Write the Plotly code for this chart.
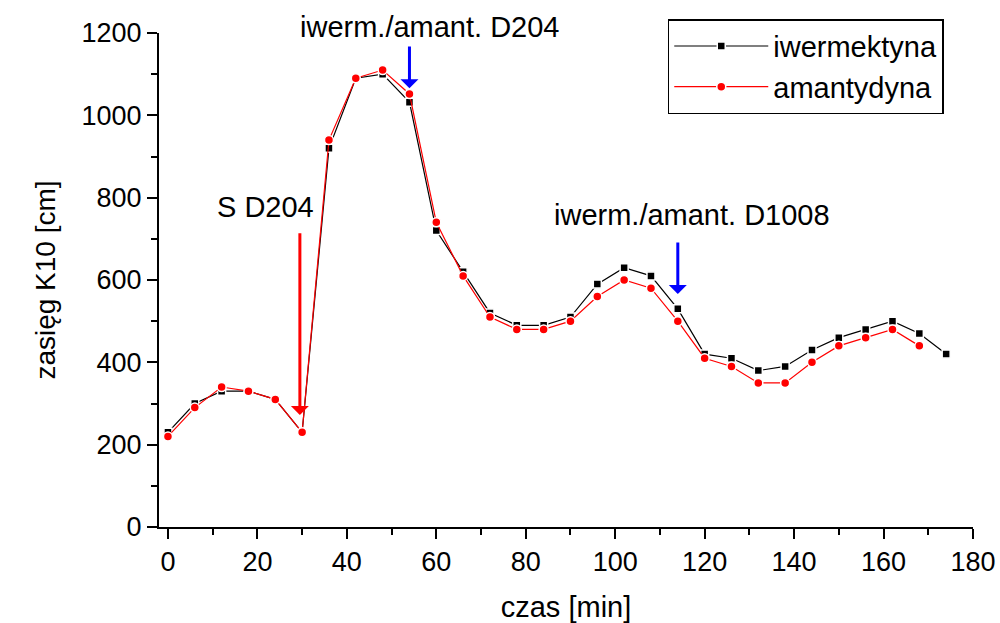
import plotly.graph_objects as go

czas = [0, 6, 12, 18, 24, 30, 36, 42, 48, 54, 60, 66, 72, 78, 84, 90, 96, 102, 108, 114,
        120, 126, 132, 138, 144, 150, 156, 162, 168, 174]
iwermektyna = [230, 300, 330, 330, 310, 230, 920, 1090, 1100, 1032, 720, 620, 520, 490, 490,
               510, 590, 630, 610, 530, 420, 410, 380, 390, 430, 460, 480, 500, 470, 420]
czas_am = czas[:-1]
amantydyna = [220, 290, 340, 330, 310, 230, 940, 1090, 1110, 1052, 740, 610, 510, 480, 480,
              500, 560, 600, 580, 500, 410, 390, 350, 350, 400, 440, 460, 480, 440]

x_ticks = list(range(0, 181, 20))
y_ticks = list(range(0, 1201, 200))

FONT = "Liberation Sans, Arial, sans-serif"

fig = go.Figure()
fig.add_trace(go.Scatter(
    x=czas, y=iwermektyna, mode="lines+markers", name="iwermektyna",
    line=dict(color="black", width=1.2),
    marker=dict(symbol="square", size=8, color="black", line=dict(color="white", width=1.5)),
))
fig.add_trace(go.Scatter(
    x=czas_am, y=amantydyna, mode="lines+markers", name="amantydyna",
    line=dict(color="red", width=1.2),
    marker=dict(symbol="circle", size=9, color="red", line=dict(color="white", width=1.5)),
))

arrows = [
    # (x, head_y, tail_y, color)
    (29.5, 272, 717, "red"),
    (54, 1066, 1171, "blue"),
    (114, 566, 695, "blue"),
]
for ax_x, hy, ty, col in arrows:
    fig.add_annotation(x=ax_x, y=hy, ax=ax_x, ay=ty, xref="x", yref="y", axref="x", ayref="y",
                       showarrow=True, arrowhead=1, arrowsize=1, arrowwidth=3, arrowcolor=col,
                       text="")

labels = [
    (21.7, 777, "S D204"),
    (117.2, 758, "iwerm./amant. D1008"),
]
for lx, ly, t in labels:
    fig.add_annotation(x=lx, y=ly, xref="x", yref="y", text=t, showarrow=False,
                       font=dict(family=FONT, size=29, color="black"))
# label above the plotting area
fig.add_annotation(x=58.6, y=1.012, xref="x", yref="paper", yanchor="middle",
                   text="iwerm./amant. D204", showarrow=False, borderpad=0,
                   font=dict(family=FONT, size=29, color="black"))

axis_common = dict(
    showline=True, linecolor="black", linewidth=2, showgrid=False, zeroline=False,
    ticks="outside", ticklen=10, tickwidth=2, tickcolor="black", automargin=False,
    tickfont=dict(family=FONT, size=27, color="black"),
)
fig.update_xaxes(range=[-2, 180], tickvals=x_ticks,
                 title=dict(text="czas [min]", font=dict(family=FONT, size=29, color="black"), standoff=20),
                 minor=dict(dtick=10, tick0=0, ticks="outside", ticklen=6, tickwidth=2, tickcolor="black"),
                 **axis_common)
fig.update_yaxes(range=[0, 1200], tickvals=y_ticks,
                 title=dict(text="zasięg K10 [cm]", font=dict(family=FONT, size=28, color="black"), standoff=18),
                 minor=dict(dtick=100, tick0=0, ticks="outside", ticklen=6, tickwidth=2, tickcolor="black"),
                 **axis_common)

fig.update_layout(
    width=1000, height=623,
    margin=dict(l=159, r=27, t=33, b=96),
    plot_bgcolor="white", paper_bgcolor="white",
    font=dict(family=FONT, color="black"),
    legend=dict(x=0.625, y=1.028, xanchor="left", yanchor="top",
                bordercolor="black", borderwidth=1.5, bgcolor="white",
                font=dict(family=FONT, size=29, color="black"),
                itemwidth=94, tracegroupgap=0),
    showlegend=True,
)

fig.write_html("out.html")
